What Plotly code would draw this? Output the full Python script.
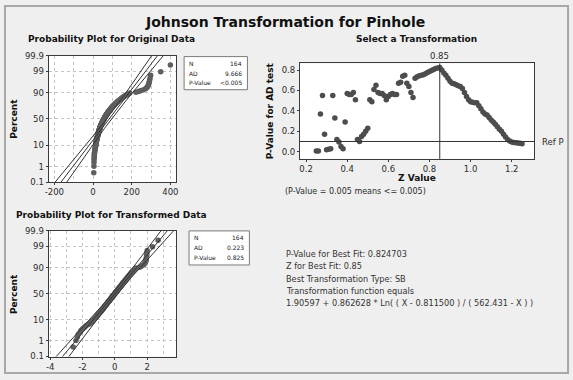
import math
from statistics import NormalDist
import numpy as np
import plotly.graph_objects as go

# ---------------- data ----------------
original_data = [
    3.9, 4.6, 5.0, 5.3, 5.9, 6.2, 6.8, 7.5, 8.1, 8.9,
    10.2, 11.0, 11.8, 12.5, 13.1, 13.6, 14.2, 14.9, 15.6, 16.0,
    16.5, 17.2, 17.8, 18.3, 18.9, 19.5, 20.1, 20.6, 21.3, 21.8,
    22.4, 22.9, 23.5, 24.0, 24.6, 25.2, 25.9, 26.3, 26.8, 27.4,
    28.0, 28.5, 29.1, 29.6, 30.2, 30.9, 31.5, 32.0, 32.6, 33.1,
    33.8, 34.5, 35.0, 35.7, 36.3, 37.0, 37.6, 38.2, 38.9, 39.5,
    40.3, 41.0, 41.6, 42.4, 43.1, 43.8, 44.6, 45.3, 46.1, 46.9,
    47.5, 48.4, 49.2, 50.0, 50.9, 51.6, 52.5, 53.4, 54.2, 55.1,
    56.0, 56.8, 57.8, 58.6, 59.5, 60.4, 61.3, 62.3, 63.2, 64.2,
    65.1, 66.2, 67.2, 68.1, 69.3, 70.3, 71.4, 72.5, 73.7, 74.9,
    76.0, 77.3, 78.5, 79.8, 81.0, 82.4, 83.7, 85.1, 86.5, 87.9,
    89.4, 90.9, 92.4, 94.0, 95.6, 97.3, 99.0, 100.8, 102.5, 104.4,
    106.3, 108.2, 110.3, 112.3, 114.5, 116.7, 119.0, 121.4, 123.8, 126.4,
    129.0, 131.7, 134.6, 137.5, 140.6, 143.8, 147.1, 150.0, 154.0, 158.0,
    163.0, 168.0, 173.0, 178.0, 183.0, 190.0, 222.0, 235.0, 245.0, 258.0,
    270.0, 276.0, 281.0, 284.0, 287.0, 289.0, 291.0, 293.0, 295.0, 298.0,
    350.0, 400.0,
]
# Johnson SB fit: gamma + eta * ln((X - epsilon) / (epsilon + lambda - X))
sb_gamma, sb_eta, sb_low, sb_high = 1.90597, 0.862628, 0.811500, 562.431

z_values = [round(0.25 + 0.01 * k, 2) for k in range(101)]
p_values = [
    0.008, 0.008, 0.37, 0.55, 0.17, 0.02, 0.025, 0.03, 0.55, 0.33,
    0.12, 0.095, 0.05, 0.03, 0.29, 0.57, 0.56, 0.56, 0.58, 0.51,
    0.12, 0.10, 0.15, 0.17, 0.20, 0.23, 0.51, 0.49, 0.61, 0.65,
    0.58, 0.57, 0.57, 0.55, 0.51, 0.54, 0.56, 0.57, 0.56, 0.56,
    0.67, 0.68, 0.74, 0.75, 0.67, 0.64, 0.58, 0.53, 0.72, 0.735,
    0.745, 0.75, 0.755, 0.765, 0.775, 0.785, 0.795, 0.805, 0.815, 0.82,
    0.825, 0.80, 0.77, 0.75, 0.72, 0.69, 0.67, 0.665, 0.655, 0.645,
    0.64, 0.62, 0.58, 0.54, 0.51, 0.49, 0.485, 0.48, 0.48, 0.45,
    0.42, 0.39, 0.37, 0.36, 0.335, 0.31, 0.29, 0.27, 0.245, 0.22,
    0.20, 0.17, 0.145, 0.12, 0.105, 0.095, 0.09, 0.088, 0.085, 0.082,
    0.078,
]
best_z = 0.85
ref_p = 0.10

percent_ticks = [0.1, 1, 10, 50, 90, 99, 99.9]
percent_labels = ["0.1", "1", "10", "50", "90", "99", "99.9"]
orig_x_ticks = [-200, 0, 200, 400]
trans_x_ticks = [-4, -2, 0, 2]
z_ticks = [0.2, 0.4, 0.6, 0.8, 1.0, 1.2]
p_ticks = [0.0, 0.2, 0.4, 0.6, 0.8]

stats_original = [("N", "164"), ("AD", "9.666"), ("P-Value", "<0.005")]
stats_transformed = [("N", "164"), ("AD", "0.223"), ("P-Value", "0.825")]
fit_lines = [
    "P-Value for Best Fit: 0.824703",
    "Z for Best Fit: 0.85",
    "Best Transformation Type: SB",
    "Transformation function equals",
    "1.90597 + 0.862628 * Ln( ( X - 0.811500 ) / ( 562.431 - X ) )",
]

# ---------------- computations ----------------
nd = NormalDist()
orig = np.sort(np.array(original_data))
n = len(orig)
ranks = np.arange(1, n + 1)
pos = (ranks - 0.3) / (n + 0.4)
zpos = np.array([nd.inv_cdf(p) for p in pos])
trans = np.sort(sb_gamma + sb_eta * np.log((orig - sb_low) / (sb_high - orig)))

zgrid = np.linspace(-3.3, 3.3, 80)


def fit_bands(data):
    mu = float(np.mean(data))
    sd = float(np.std(data, ddof=1))
    m = len(data)
    center = mu + zgrid * sd
    se = sd * np.sqrt(1.0 / m + zgrid ** 2 / (2.0 * m))
    return center, center - 1.96 * se, center + 1.96 * se


W, H = 573, 380


def fx(x):
    return x / W


def fy(y):
    return 1 - y / H


FONT = "DejaVu Sans"
INK = "#2b2b2b"
GRID = "#c4c4c4"
FRAME = "#3a3a3a"

fig = go.Figure()

# top-left probability plot
fig.add_trace(go.Scatter(x=orig, y=zpos, mode="markers", xaxis="x", yaxis="y",
                         marker=dict(color="#5e5e5e", size=5.5, line=dict(width=0)),
                         showlegend=False, hoverinfo="skip"))
for line in fit_bands(orig):
    fig.add_trace(go.Scatter(x=line, y=zgrid, mode="lines", xaxis="x", yaxis="y",
                             line=dict(color="#333333", width=1), showlegend=False,
                             hoverinfo="skip"))

# top-right selection plot
fig.add_trace(go.Scatter(x=z_values, y=p_values, mode="markers", xaxis="x2", yaxis="y2",
                         marker=dict(color="#4d4d4d", size=5.5, line=dict(width=0)),
                         showlegend=False, hoverinfo="skip"))

# bottom-left probability plot
fig.add_trace(go.Scatter(x=trans, y=zpos, mode="markers", xaxis="x3", yaxis="y3",
                         marker=dict(color="#5e5e5e", size=5.5, line=dict(width=0)),
                         showlegend=False, hoverinfo="skip"))
for line in fit_bands(trans):
    fig.add_trace(go.Scatter(x=line, y=zgrid, mode="lines", xaxis="x3", yaxis="y3",
                             line=dict(color="#333333", width=1), showlegend=False,
                             hoverinfo="skip"))

tick_font = dict(family=FONT, size=8.5, color=INK)
zlim = nd.inv_cdf(0.999)
pct_vals = [nd.inv_cdf(p / 100) for p in percent_ticks]

common = dict(showline=True, mirror=True, linecolor=FRAME, linewidth=1, zeroline=False,
              ticks="outside", ticklen=2, tickcolor=FRAME, tickfont=tick_font)
prob_y = dict(common, range=[-zlim, zlim], tickmode="array", tickvals=pct_vals,
              ticktext=percent_labels, showgrid=True, gridcolor=GRID, griddash="3px,3px",
              gridwidth=1)

fig.update_layout(
    width=W, height=H, autosize=False,
    margin=dict(l=0, r=0, t=0, b=0),
    paper_bgcolor="#efefef", plot_bgcolor="white",
    hovermode=False,
    xaxis=dict(common, domain=[fx(45), fx(174)], range=[-230, 430], anchor="y",
               tickmode="array", tickvals=orig_x_ticks,
               ticktext=[str(v) for v in orig_x_ticks],
               showgrid=True, gridcolor=GRID, griddash="3px,3px",
               minor=dict(tickmode="array", tickvals=[-100, 100, 300], showgrid=True,
                          gridcolor=GRID, griddash="3px,3px", ticks="")),
    yaxis=dict(prob_y, domain=[fy(182), fy(52)], anchor="x"),
    xaxis2=dict(common, domain=[fx(299), fx(536)], range=[0.17, 1.31], anchor="y2",
                tickmode="array", tickvals=z_ticks,
                ticktext=["%.1f" % v for v in z_ticks], showgrid=False),
    yaxis2=dict(common, domain=[fy(158), fy(60)], range=[-0.07, 0.865], anchor="x2",
                tickmode="array", tickvals=p_ticks,
                ticktext=["%.1f" % v for v in p_ticks], showgrid=False),
    xaxis3=dict(common, domain=[fx(45), fx(174)], range=[-4.1, 3.8], anchor="y3",
                tickmode="array", tickvals=trans_x_ticks,
                ticktext=[str(v) for v in trans_x_ticks],
                showgrid=True, gridcolor=GRID, griddash="3px,3px",
                minor=dict(tickmode="array", tickvals=[-3, -1, 1, 3], showgrid=True,
                           gridcolor=GRID, griddash="3px,3px", ticks="")),
    yaxis3=dict(prob_y, domain=[fy(361), fy(232)], anchor="x3"),
)

shapes = []
# outer frame
shapes.append(dict(type="rect", xref="paper", yref="paper", x0=fx(1), x1=fx(570),
                   y0=fy(378), y1=fy(1), line=dict(color="#a8a8a8", width=2)))
# reference lines in the selection plot
shapes.append(dict(type="line", xref="x2", yref="y2 domain", x0=best_z, x1=best_z,
                   y0=0, y1=1, line=dict(color="#333333", width=1)))
shapes.append(dict(type="line", xref="x2 domain", yref="y2", x0=0, x1=1,
                   y0=ref_p, y1=ref_p, line=dict(color="#333333", width=1)))
# stat boxes
for (x0, y0, x1, y1) in [(182, 53, 246, 87), (187, 232, 248, 267)]:
    shapes.append(dict(type="rect", xref="paper", yref="paper", x0=fx(x0), x1=fx(x1),
                       y0=fy(y1), y1=fy(y0), fillcolor="white",
                       line=dict(color="#7a7a7a", width=1)))
fig.update_layout(shapes=shapes)

ann = []


def text(x, y, s, size=8, bold=False, xanchor="center", angle=0, color=INK, family=FONT):
    ann.append(dict(x=fx(x), y=fy(y), xref="paper", yref="paper", text=s, showarrow=False,
                    xanchor=xanchor, yanchor="middle", textangle=angle,
                    font=dict(family=family, size=size, color=color,
                              weight="bold" if bold else "normal")))


text(284, 17, "Johnson Transformation for Pinhole", size=14, bold=True, color="#111111")
text(109, 35, "Probability Plot for Original Data", size=9, bold=True, color="#111111")
text(109, 216, "Probability Plot for Transformed Data", size=9, bold=True, color="#111111")
text(417, 35, "Select a Transformation", size=9, bold=True, color="#111111")
text(10, 117, "Percent", size=9, bold=True, angle=-90, color="#111111")
text(10, 297, "Percent", size=9, bold=True, angle=-90, color="#111111")
text(269, 109, "P-Value for AD test", size=9, bold=True, angle=-90, color="#111111")
text(417, 178, "Z Value", size=9, bold=True, color="#111111")
text(440, 52, "%.2f" % best_z, size=8.5)
text(542, 141, "Ref P", size=8.5, xanchor="left")
text(282, 192, "(P-Value = 0.005 means <= 0.005)", size=8, xanchor="left")

for (bx0, bx1, rows_y, stats) in [(182, 246, [60, 70, 80], stats_original),
                                  (187, 248, [239, 249.5, 259.5], stats_transformed)]:
    for yy, (k, v) in zip(rows_y, stats):
        text(bx0 + 3, yy, k, size=6, xanchor="left", color="#222222")
        text(bx1 - 3, yy, v, size=6, xanchor="right", color="#222222")

for i, line in enumerate(fit_lines):
    text(283, 256 + i * 12.5, line, size=8.2, xanchor="left", color="#333333")

fig.update_layout(annotations=ann)
fig.write_html(
    "out.html",
    config={"displayModeBar": False, "staticPlot": True},
    post_script="document.body.style.margin='0';document.body.style.overflow='hidden';",
)
